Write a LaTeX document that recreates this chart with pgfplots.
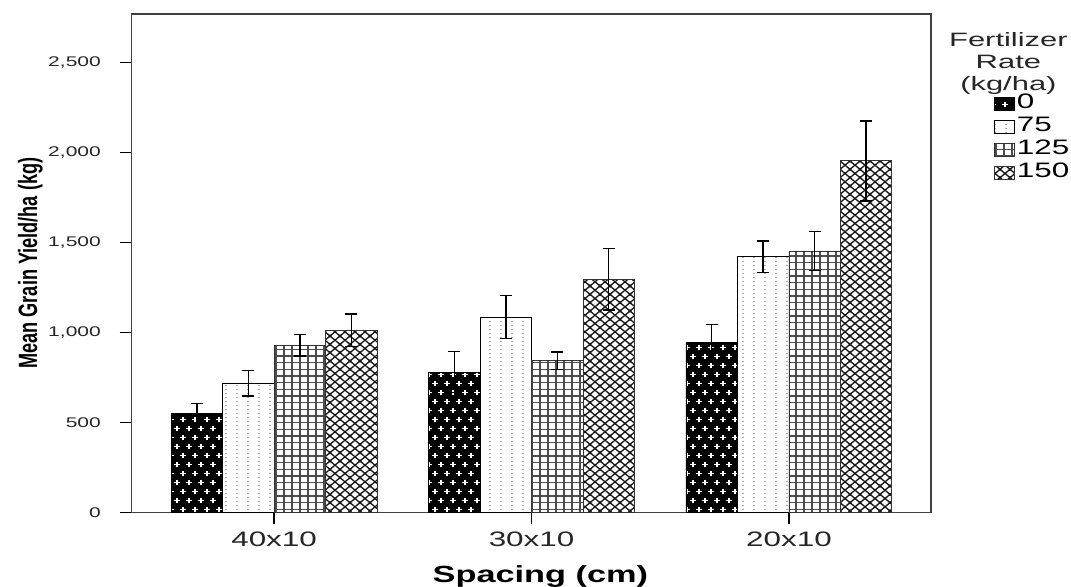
\documentclass[border=0pt]{standalone}
\usepackage{fontspec}
\setmainfont{Liberation Sans}
\usepackage{pgfplots}
\pgfplotsset{compat=1.18}
\usetikzlibrary{patterns}

% black with white plus signs
\pgfdeclarepatterninherentlycolored{plusw}{\pgfpoint{-0.3pt}{-0.3pt}}{\pgfpoint{9.3pt}{13.8pt}}{\pgfpoint{9pt}{13.5pt}}{%
  \pgfsetfillcolor{black}%
  \pgfpathrectangle{\pgfpoint{-0.3pt}{-0.3pt}}{\pgfpoint{9.6pt}{14.1pt}}\pgfusepath{fill}%
  \pgfsetstrokecolor{white}\pgfsetlinewidth{1.3pt}%
  \pgfpathmoveto{\pgfpoint{0.1pt}{3.375pt}}\pgfpathlineto{\pgfpoint{4.4pt}{3.375pt}}%
  \pgfpathmoveto{\pgfpoint{2.25pt}{1.2pt}}\pgfpathlineto{\pgfpoint{2.25pt}{5.55pt}}%
  \pgfpathmoveto{\pgfpoint{4.6pt}{10.125pt}}\pgfpathlineto{\pgfpoint{8.9pt}{10.125pt}}%
  \pgfpathmoveto{\pgfpoint{6.75pt}{7.95pt}}\pgfpathlineto{\pgfpoint{6.75pt}{12.3pt}}%
  \pgfusepath{stroke}}
% vertical dotted lines
\pgfdeclarepatterninherentlycolored{dotsv}{\pgfpointorigin}{\pgfpoint{7.9pt}{3pt}}{\pgfpoint{7.9pt}{3pt}}{%
  \pgfsetfillcolor{black!55}%
  \pgfpathcircle{\pgfpoint{3.9pt}{1.5pt}}{0.6pt}\pgfusepath{fill}}
% grid
\pgfdeclarepatterninherentlycolored{gridg}{\pgfpoint{-0.5pt}{-0.5pt}}{\pgfpoint{6.5pt}{5.5pt}}{\pgfpoint{6pt}{5pt}}{%
  \pgfsetstrokecolor{black!70}\pgfsetlinewidth{1.1pt}%
  \pgfpathmoveto{\pgfpoint{3pt}{-0.5pt}}\pgfpathlineto{\pgfpoint{3pt}{5.5pt}}\pgfusepath{stroke}%
  \pgfsetlinewidth{0.8pt}%
  \pgfpathmoveto{\pgfpoint{-0.5pt}{2.5pt}}\pgfpathlineto{\pgfpoint{6.5pt}{2.5pt}}\pgfusepath{stroke}}
% diamonds
\pgfdeclarepatterninherentlycolored{diam}{\pgfpoint{-1pt}{-1pt}}{\pgfpoint{8.5pt}{7.25pt}}{\pgfpoint{7.5pt}{6.25pt}}{%
  \pgfsetstrokecolor{black!90}\pgfsetlinewidth{1pt}%
  \pgfpathmoveto{\pgfpoint{-1pt}{-0.833pt}}\pgfpathlineto{\pgfpoint{8.5pt}{7.083pt}}%
  \pgfpathmoveto{\pgfpoint{-1pt}{7.083pt}}\pgfpathlineto{\pgfpoint{8.5pt}{-0.833pt}}%
  \pgfusepath{stroke}}

\pgfplotstableread{
x y e
0 551 55
1 779 114
2 945 100
}\tzero
\pgfplotstableread{
x y e
0 717 70
1 1085 120
2 1420 88
}\tsf
\pgfplotstableread{
x y e
0 929 60
1 843 48
2 1453 108
}\tots
\pgfplotstableread{
x y e
0 1013 90
1 1296 172
2 1954 222
}\tof

\begin{document}
\begin{tikzpicture}
\path[use as bounding box] (-98.8pt,-55.3pt) rectangle (704.45pt,384.2pt);
\begin{axis}[
  name=ax,
  at={(0,0)}, anchor=south west,
  scale only axis, width=599.5pt, height=373.7pt,
  xmin=-0.553, xmax=2.552, ymin=0, ymax=2771,
  ybar, bar width=0.2,
  xtick={0,1,2}, xticklabels={40x10,30x10,20x10},
  ytick={0,500,1000,1500,2000,2500},
  tick align=outside, xtick pos=bottom, ytick pos=left,
  major tick length=9pt,
  tick style={black, line width=0.9pt},
  axis line style={black!75, line width=0.9pt},
  /pgf/number format/.cd, 1000 sep={,}, assume math mode=true, /pgfplots/.cd,
  yticklabel={\scalebox{1.5}[1]{\pgfmathprintnumber{\tick}}},
  yticklabel style={font=\fontsize{10.5}{12}\selectfont, inner sep=0pt, anchor=east, text=black!85},
  yticklabel shift=14pt,
  xticklabel style={font=\fontsize{15.7}{18}\selectfont, inner sep=0pt, anchor=north, xscale=1.5, text=black!85},
  xticklabel shift=5.5pt,
  xlabel={\bfseries Spacing (cm)},
  xlabel style={at={(axis description cs:0.5,0)}, anchor=base, yshift=-52.3pt, xshift=6.75pt, font=\fontsize{17.5}{20}\selectfont, xscale=1.47, inner sep=0pt},
  ylabel={\scalebox{1}[1.46]{\bfseries Mean Grain Yield/ha (kg)}},
  ylabel style={at={(axis description cs:0,0.5)}, anchor=center, yshift=76pt, font=\fontsize{13.6}{16}\selectfont, inner sep=0pt},
  legend style={at={(1,1)}, anchor=north west, xshift=47pt, yshift=-60.5pt, draw=none, fill=none,
    font=\fontsize{15.7}{17}\selectfont, cells={anchor=west}, inner sep=0pt,
    nodes={inner sep=1.5pt, text height=9pt, text depth=2pt}, row sep=3.25pt},
  legend image code/.code={\draw[#1, line width=0.7pt] (0pt,-5pt) rectangle (15pt,5pt);},
  error bars/y dir=both, error bars/y explicit,
  error bars/error bar style={black, line width=1.1pt},
  error bars/error mark options={rotate=90, mark size=4.6pt, line width=1.1pt, black},
]
\addplot+[bar shift=-0.3, draw=black, line width=0.7pt, pattern=plusw] table[x=x, y=y, y error=e]{\tzero};
\addplot+[bar shift=-0.1, draw=black, line width=0.7pt, pattern=dotsv] table[x=x, y=y, y error=e]{\tsf};
\addplot+[bar shift=0.1, draw=black!80, line width=0.7pt, pattern=gridg] table[x=x, y=y, y error=e]{\tots};
\addplot+[bar shift=0.3, draw=black!80, line width=0.7pt, pattern=diam] table[x=x, y=y, y error=e]{\tof};
\legend{\scalebox{1.5}[1]{0},\scalebox{1.5}[1]{75},\scalebox{1.5}[1]{125},\scalebox{1.5}[1]{150}}
\end{axis}
\node[anchor=north, align=center, font=\fontsize{14.5}{16.2}\selectfont, xscale=1.6, inner sep=0pt, text=black!85]
  at ([xshift=58pt, yshift=-14pt]ax.north east) {Fertilizer\\Rate\\(kg/ha)};
\end{tikzpicture}
\end{document}
